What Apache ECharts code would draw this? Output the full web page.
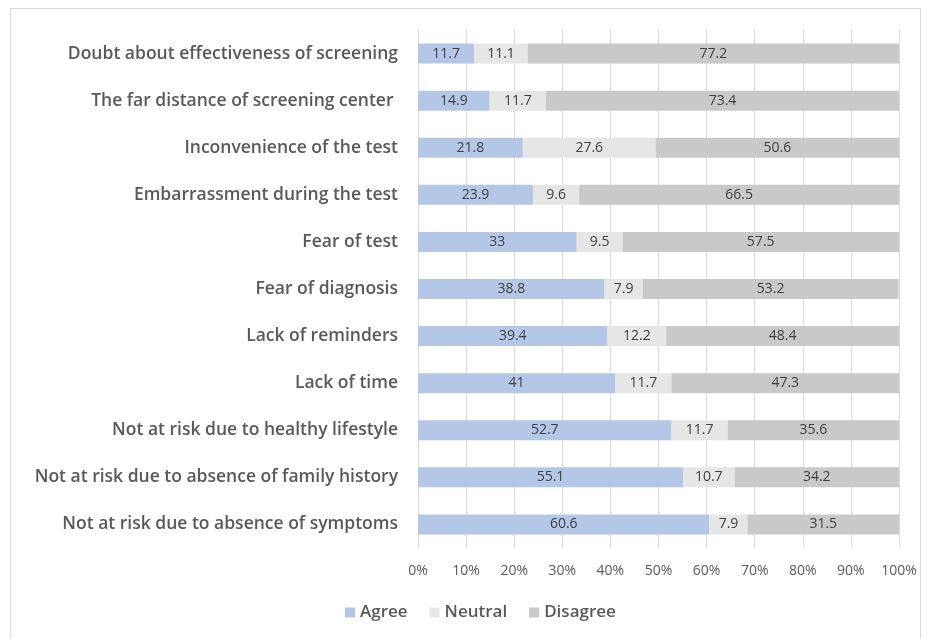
<!DOCTYPE html>
<html><head><meta charset="utf-8">
<script src="https://cdn.jsdelivr.net/npm/echarts@6/dist/echarts.min.js"></script>
<style>html,body{margin:0;padding:0;background:#fff}#c{width:931px;height:639px}</style>
</head><body><div id="c"></div>
<script>
const categories = [
  "Not at risk due to absence of symptoms",
  "Not at risk due to absence of family history",
  "Not at risk due to healthy lifestyle",
  "Lack of time",
  "Lack of reminders",
  "Fear of diagnosis",
  "Fear of test",
  "Embarrassment during the test",
  "Inconvenience of the test",
  "The far distance of screening center ",
  "Doubt about effectiveness of screening"
];
const agree    = [60.6, 55.1, 52.7, 41, 39.4, 38.8, 33, 23.9, 21.8, 14.9, 11.7];
const neutral  = [7.9, 10.7, 11.7, 11.7, 12.2, 7.9, 9.5, 9.6, 27.6, 11.7, 11.1];
const disagree = [31.5, 34.2, 35.6, 47.3, 48.4, 53.2, 57.5, 66.5, 50.6, 73.4, 77.2];
const tickLabels = ["0%","10%","20%","30%","40%","50%","60%","70%","80%","90%","100%"];

const chart = echarts.init(document.getElementById('c'));
const lbl = {show:true, position:'inside', color:'#404040', fontSize:14, fontFamily:'Open Sans'};
function ser(name, data, color){
  return {name, type:'bar', stack:'s', data, barWidth:20,
    itemStyle:{color}, label:lbl, emphasis:{disabled:true}};
}
chart.setOption({
  animation:false,
  graphic:[{type:'rect', shape:{x:10.5,y:8.5,width:910,height:640}, style:{fill:'none', stroke:'#D9D9D9', lineWidth:1}}],
  grid:{left:418, right:32, top:30, bottom:91, containLabel:false},
  legend:{bottom:13, left:340, itemWidth:10, itemHeight:10, itemGap:22, icon:'rect',
    textStyle:{color:'#595959', fontSize:17, fontFamily:'Open Sans', fontWeight:600},
    data:['Agree','Neutral','Disagree']},
  xAxis:{type:'value', min:0, max:100, interval:10,
    axisLabel:{formatter:v=>tickLabels[v/10], color:'#595959', fontSize:14, fontFamily:'Open Sans', margin:16},
    splitLine:{show:true, lineStyle:{color:'#D9D9D9'}},
    axisLine:{show:false}, axisTick:{show:false}},
  yAxis:{type:'category', data:categories,
    axisLabel:{color:'#595959', fontSize:17.5, fontWeight:600, fontFamily:'Open Sans', margin:20},
    axisLine:{show:true, lineStyle:{color:'#D9D9D9'}}, axisTick:{show:false}},
  series:[ser('Agree',agree,'#B4C7E7'), ser('Neutral',neutral,'#E7E6E6'), ser('Disagree',disagree,'#C9C9C9')]
});
</script></body></html>
